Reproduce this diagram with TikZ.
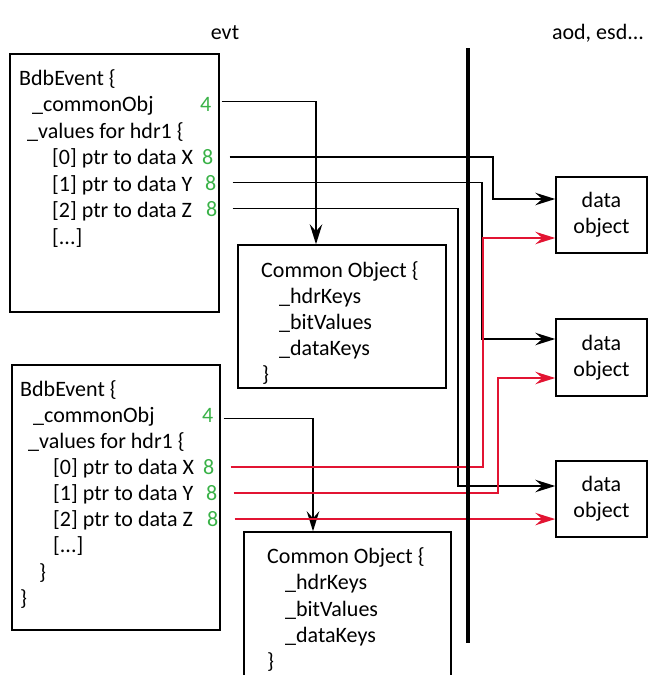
\documentclass[tikz,border=0pt]{standalone}
\usepackage{fontspec}
\setmainfont{Carlito}
\usetikzlibrary{arrows.meta}
\definecolor{sizegreen}{RGB}{58,178,72}
\definecolor{linkred}{RGB}{226,20,50}
\begin{document}
\begin{tikzpicture}[x=1pt,y=-1pt,
  every node/.style={inner sep=0pt, font=\fontsize{22}{26}\selectfont},
  panel/.style={draw, line width=1.5pt},
  txt/.style={anchor=base west},
  size/.style={anchor=base west, text=sizegreen},
  head/.style={anchor=base},
  link/.style={line width=1.5pt, -{Stealth[length=20pt,width=12.5pt,inset=7pt]}},
  redlink/.style={link, draw=linkred, -{Stealth[length=20pt,width=12.5pt,inset=7pt,fill=linkred]}},
  divider/.style={line width=4pt}]
\clip (0,0) rectangle (648,675);

% column headings
\node[head] (hevt) at (225,39) {evt};
\node[head] (haod) at (598,39) {aod, esd...};

% first event
\node[panel, minimum width=209pt, minimum height=258pt] (ev1) at (114.5,183) {};
\node[txt] (a0) at (19,85) {BdbEvent \{};
\node[txt] (a1) at (32,111.5) {\_commonObj};
\node[txt] (a2) at (27,138) {\_values for hdr1 \{};
\node[txt] (a3) at (52,164.5) {[0] ptr to data X};
\node[txt] (a4) at (52,191) {[1] ptr to data Y};
\node[txt] (a5) at (52,217) {[2] ptr to data Z};
\node[txt] (a6) at (52,244) {[...]};
\node[size] (ca) at (200,111.5) {4};
\node[size] (xa) at (202,164.5) {8};
\node[size] (ya) at (205,190) {8};
\node[size] (za) at (206,216) {8};

% second event
\node[panel, minimum width=208pt, minimum height=265pt] (ev2) at (116,497.5) {};
\node[txt] (b0) at (20,396.5) {BdbEvent \{};
\node[txt] (b1) at (33,422.5) {\_commonObj};
\node[txt] (b2) at (28,448.5) {\_values for hdr1 \{};
\node[txt] (b3) at (53,474.5) {[0] ptr to data X};
\node[txt] (b4) at (53,500.5) {[1] ptr to data Y};
\node[txt] (b5) at (53,526.5) {[2] ptr to data Z};
\node[txt] (b6) at (53,552.5) {[...]};
\node[txt] (b7) at (39,579) {\}};
\node[txt] (b8) at (20,605) {\}};
\node[size] (cb) at (202,422.5) {4};
\node[size] (xb) at (203,474.5) {8};
\node[size] (yb) at (206,500.5) {8};
\node[size] (zb) at (207,526.5) {8};

% common objects
\node[panel, minimum width=208pt, minimum height=143pt] (co1) at (342,316.5) {};
\node[txt] (p0) at (261,277) {Common Object \{};
\node[txt] (p1) at (279,303) {\_hdrKeys};
\node[txt] (p2) at (279,329) {\_bitValues};
\node[txt] (p3) at (279,355) {\_dataKeys};
\node[txt] (p4) at (262,381) {\}};

\node[panel, minimum width=207pt, minimum height=168pt] (co2) at (347.5,616) {};
\node[txt] (q0) at (267,563) {Common Object \{};
\node[txt] (q1) at (285,589) {\_hdrKeys};
\node[txt] (q2) at (285,616) {\_bitValues};
\node[txt] (q3) at (285,642) {\_dataKeys};
\node[txt] (q4) at (267,668) {\}};

% data objects
\node[panel, minimum width=91pt, minimum height=76pt, align=center] (d1) at (601.5,215) {data\\object};
\node[panel, minimum width=91pt, minimum height=77pt, align=center] (d2) at (601.5,357.5) {data\\object};
\node[panel, minimum width=91pt, minimum height=76pt, align=center] (d3) at (601.5,499) {data\\object};

% start points of the pointer lines
\coordinate (sxa) at ([xshift=16pt]xa.east);
\coordinate (sya) at ([xshift=16pt]ya.east);
\coordinate (sza) at ([xshift=15pt]za.east);
\coordinate (sxb) at ([xshift=16pt]xb.east);
\coordinate (syb) at ([xshift=16pt]yb.east);
\coordinate (szb) at ([xshift=16pt]zb.east);

% bends
\coordinate (k10) at (493,199);
\coordinate (k11) at (482,339);
\coordinate (k12) at (458,486);
\coordinate (k20) at (483,238);
\coordinate (k21) at (498,378);

% common object pointers
\draw[link] ([xshift=10pt,yshift=3pt]ca.east) -| ([xshift=-26pt]co1.north);
\draw[link] ([xshift=10pt,yshift=-3pt]cb.east) -| ([xshift=-34.5pt]co2.north);

% data pointers of the first event
\draw[link] (sxa) -| (k10) -- (k10 -| d1.west);
\draw[link] (sya) -| (k11) -- (k11 -| d2.west);
\draw[link] (sza) -| (k12) -- (k12 -| d3.west);

% data pointers of the second event
\draw[redlink] (sxb) -| (k20) -- (k20 -| d1.west);
\draw[redlink] (syb) -| (k21) -- (k21 -| d2.west);
\draw[redlink] (szb) -- (szb -| d3.west);

% boundary between the two formats
\coordinate (divtop) at (468,48);
\coordinate (divbot) at (468,643);
\draw[divider] (divtop) -- (divbot);
\end{tikzpicture}
\end{document}
